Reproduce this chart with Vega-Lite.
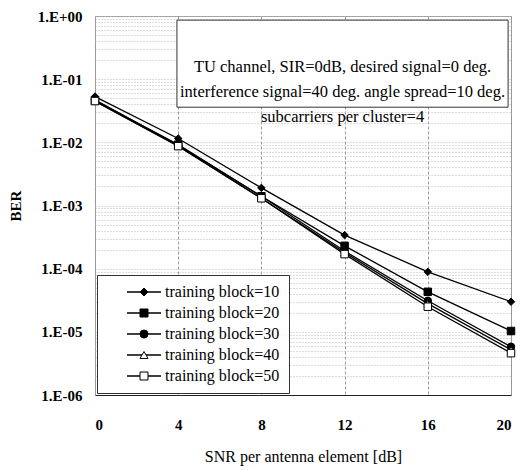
{
  "$schema": "https://vega.github.io/schema/vega-lite/v6.json",
  "width": 416,
  "height": 379,
  "autosize": "none",
  "padding": {"left": 95, "top": 16, "right": 10, "bottom": 75},
  "background": "white",
  "config": {
    "font": "Liberation Serif",
    "view": {"stroke": "#999", "strokeWidth": 1},
    "axis": {"labelFont": "Liberation Serif", "titleFont": "Liberation Serif"},
    "legend": {"labelFont": "Liberation Serif", "titleFont": "Liberation Serif"},
    "text": {"font": "Liberation Serif"}
  },
  "data": {
    "values": [
      {"snr": 0, "ber": 0.053, "series": "training block=10"},
      {"snr": 4, "ber": 0.0115, "series": "training block=10"},
      {"snr": 8, "ber": 0.0019, "series": "training block=10"},
      {"snr": 12, "ber": 0.00034, "series": "training block=10"},
      {"snr": 16, "ber": 0.000089, "series": "training block=10"},
      {"snr": 20, "ber": 0.000030, "series": "training block=10"},
      {"snr": 0, "ber": 0.046, "series": "training block=20"},
      {"snr": 4, "ber": 0.0092, "series": "training block=20"},
      {"snr": 8, "ber": 0.0014, "series": "training block=20"},
      {"snr": 12, "ber": 0.00023, "series": "training block=20"},
      {"snr": 16, "ber": 0.000043, "series": "training block=20"},
      {"snr": 20, "ber": 0.0000103, "series": "training block=20"},
      {"snr": 0, "ber": 0.047, "series": "training block=30"},
      {"snr": 4, "ber": 0.0090, "series": "training block=30"},
      {"snr": 8, "ber": 0.0014, "series": "training block=30"},
      {"snr": 12, "ber": 0.00019, "series": "training block=30"},
      {"snr": 16, "ber": 0.000031, "series": "training block=30"},
      {"snr": 20, "ber": 0.0000058, "series": "training block=30"},
      {"snr": 0, "ber": 0.045, "series": "training block=40"},
      {"snr": 4, "ber": 0.0088, "series": "training block=40"},
      {"snr": 8, "ber": 0.0013, "series": "training block=40"},
      {"snr": 12, "ber": 0.00018, "series": "training block=40"},
      {"snr": 16, "ber": 0.000028, "series": "training block=40"},
      {"snr": 20, "ber": 0.0000052, "series": "training block=40"},
      {"snr": 0, "ber": 0.045, "series": "training block=50"},
      {"snr": 4, "ber": 0.0087, "series": "training block=50"},
      {"snr": 8, "ber": 0.0013, "series": "training block=50"},
      {"snr": 12, "ber": 0.00017, "series": "training block=50"},
      {"snr": 16, "ber": 0.0000250, "series": "training block=50"},
      {"snr": 20, "ber": 0.0000046, "series": "training block=50"}
    ]
  },
  "layer": [
    {
      "mark": {"type": "line", "strokeWidth": 1.3},
      "encoding": {
        "x": {
          "field": "snr", "type": "quantitative",
          "scale": {"domain": [0, 20], "nice": false, "zero": false},
          "axis": {
            "title": "SNR per antenna element [dB]",
            "values": [0, 4, 8, 12, 16, 20],
            "grid": true, "gridColor": "#999", "gridDash": [3, 2], "gridWidth": 1,
            "ticks": false, "tickSize": 0,
            "domainColor": "#222", "domainWidth": 1.2,
            "labelFont": "Liberation Serif", "labelFontSize": 15, "labelFontWeight": "bold",
            "labelColor": "black", "labelPadding": 22,
            "titleFont": "Liberation Serif", "titleFontSize": 16, "titleFontWeight": "normal",
            "titleColor": "black", "titlePadding": 16
          }
        },
        "y": {
          "field": "ber", "type": "quantitative",
          "scale": {"type": "log", "domain": [0.000001, 1], "nice": false},
          "axis": {
            "title": "BER",
            "values": [0.000001, 0.000002, 0.000003, 0.000004, 0.000005, 0.000006, 0.000007, 0.000008, 0.000009,
                       0.00001, 0.00002, 0.00003, 0.00004, 0.00005, 0.00006, 0.00007, 0.00008, 0.00009,
                       0.0001, 0.0002, 0.0003, 0.0004, 0.0005, 0.0006, 0.0007, 0.0008, 0.0009,
                       0.001, 0.002, 0.003, 0.004, 0.005, 0.006, 0.007, 0.008, 0.009,
                       0.01, 0.02, 0.03, 0.04, 0.05, 0.06, 0.07, 0.08, 0.09,
                       0.1, 0.2, 0.3, 0.4, 0.5, 0.6, 0.7, 0.8, 0.9, 1],
            "labelExpr": "abs(log(datum.value)/LN10 - round(log(datum.value)/LN10)) < 0.000001 ? (datum.value >= 0.999 ? '1.E+00' : '1.E-0' + round(-log(datum.value)/LN10)) : ''",
            "labelOverlap": false, "labelBound": false,
            "grid": true, "gridColor": "#bbb", "gridDash": [1, 2], "gridWidth": 1,
            "ticks": false, "tickSize": 0,
            "domainColor": "#999", "domainDash": [3, 2],
            "labelFont": "Liberation Serif", "labelFontSize": 15, "labelFontWeight": "bold",
            "labelColor": "black", "labelPadding": 13,
            "titleFont": "Liberation Serif", "titleFontSize": 15, "titleFontWeight": "bold",
            "titleColor": "black", "titlePadding": 14
          }
        },
        "stroke": {
          "field": "series", "type": "nominal",
          "scale": {"range": ["black", "black", "black", "black", "black"]},
          "legend": {
            "title": null, "orient": "bottom-left", "offset": 2, "zindex": 1,
            "direction": "vertical", "strokeColor": "#333", "fillColor": "white",
            "padding": 9, "rowPadding": 5,
            "labelFont": "Liberation Serif", "labelFontSize": 16, "labelColor": "black",
            "symbolType": "M-4.25,0H4.25", "symbolSize": 64, "symbolStrokeWidth": 1.3,
            "symbolOffset": 30, "labelOffset": 13
          }
        }
      }
    },
    {
      "data": {"values": [{}]},
      "mark": {"type": "rect", "fill": "white", "stroke": "#333", "strokeWidth": 1},
      "encoding": {
        "x": {"datum": 3.94, "type": "quantitative"},
        "x2": {"datum": 19.86},
        "y": {"datum": 0.036, "type": "quantitative"},
        "y2": {"datum": 0.86}
      }
    },
    {
      "data": {"values": [{}]},
      "mark": {
        "type": "text", "font": "Liberation Serif", "fontSize": 16.5, "fill": "black",
        "align": "center", "baseline": "middle", "lineHeight": 25,
        "text": ["TU channel, SIR=0dB, desired signal=0 deg.", "interference signal=40 deg. angle spread=10 deg.", "subcarriers per cluster=4"]
      },
      "encoding": {
        "x": {"datum": 11.9, "type": "quantitative"},
        "y": {"datum": 0.156, "type": "quantitative"}
      }
    },
    {
      "mark": {"type": "point", "filled": true, "size": 56, "stroke": "black", "strokeWidth": 1, "opacity": 1},
      "encoding": {
        "x": {"field": "snr", "type": "quantitative"},
        "y": {"field": "ber", "type": "quantitative"},
        "shape": {
          "field": "series", "type": "nominal",
          "scale": {
            "domain": ["training block=10", "training block=20", "training block=30", "training block=40", "training block=50"],
            "range": ["diamond", "square", "circle", "triangle-up", "square"]
          },
          "legend": {
            "title": null, "orient": "none", "legendX": 2, "legendY": 259, "zindex": 2,
            "direction": "vertical",
            "padding": 9, "rowPadding": 5,
            "labelFont": "Liberation Serif", "labelFontSize": 16, "labelOpacity": 0,
            "labelExpr": "''",
            "symbolSize": 64, "symbolStrokeWidth": 1,
            "symbolOffset": 30, "labelOffset": 13
          }
        },
        "fill": {
          "field": "series", "type": "nominal",
          "scale": {
            "domain": ["training block=10", "training block=20", "training block=30", "training block=40", "training block=50"],
            "range": ["black", "black", "black", "white", "white"]
          },
          "legend": {
            "title": null, "orient": "none", "legendX": 2, "legendY": 259, "zindex": 2,
            "direction": "vertical",
            "padding": 9, "rowPadding": 5,
            "labelFont": "Liberation Serif", "labelFontSize": 16, "labelOpacity": 0,
            "labelExpr": "''",
            "symbolSize": 64, "symbolStrokeWidth": 1,
            "symbolOffset": 30, "labelOffset": 13
          }
        }
      }
    }
  ]
}
